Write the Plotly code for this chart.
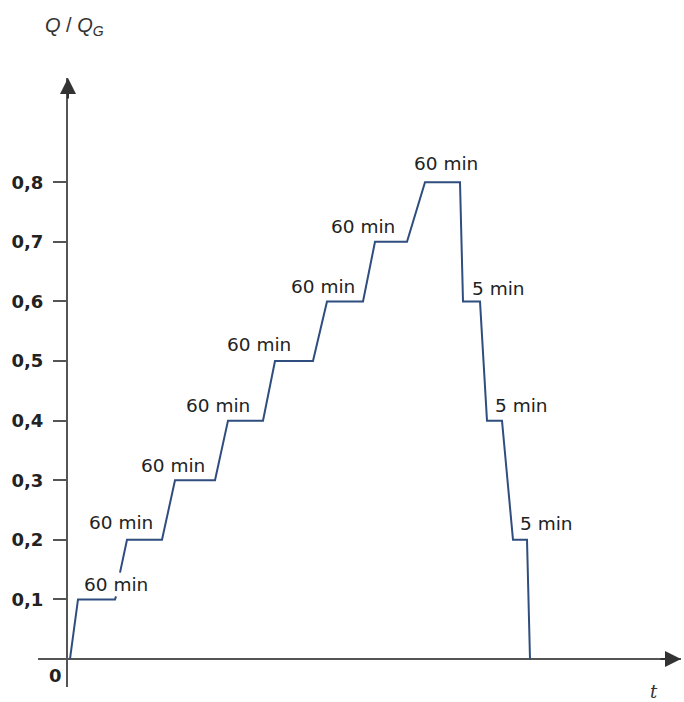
import plotly.graph_objects as go

# Time axis (arbitrary units, no ticks in the original) and load ratio Q/Q_G
t_vals = [2, 10, 47, 48, None, 52, 59, 94, 107, 147, 160, 195, 207, 245, 259, 295,
          307, 339, 357, 392, 395, 412, 419, 434, 445, 459, 462]
q_vals = [0, 0.1, 0.1, 0.105, None, 0.145, 0.2, 0.2, 0.3, 0.3, 0.4, 0.4, 0.5, 0.5, 0.6, 0.6,
          0.7, 0.7, 0.8, 0.8, 0.6, 0.6, 0.4, 0.4, 0.2, 0.2, 0]

y_tick_vals = [0.1, 0.2, 0.3, 0.4, 0.5, 0.6, 0.7, 0.8]
y_tick_text = ["0,1", "0,2", "0,3", "0,4", "0,5", "0,6", "0,7", "0,8"]

# Step duration labels, each tied to a vertex index of the curve
step_labels = ["60 min", "60 min", "60 min", "60 min", "60 min", "60 min", "60 min",
               "60 min", "5 min", "5 min", "5 min"]
label_vertex = [1, 7, 9, 11, 13, 15, 17, 18, 20, 22, 24]
label_anchor = ["left", "right", "right", "right", "right", "right", "right", "left",
                "left", "left", "left"]
label_xshift = [4, -7, -8, -11, -20, -6, -10, -13, 7, 6, 5]
label_yshift = [15, 17, 15, 15, 17, 15, 15, 19, 13, 15, 16]

line_color = "#2f4d7e"
axis_color = "#555555"
text_color = "#222222"

fig = go.Figure()
fig.add_trace(go.Scatter(x=t_vals, y=q_vals, mode="lines",
                         line=dict(color=line_color, width=2),
                         connectgaps=False, hoverinfo="skip", showlegend=False))

annotations = []
for txt, vi, anc, xs, ys in zip(step_labels, label_vertex, label_anchor, label_xshift, label_yshift):
    annotations.append(dict(x=t_vals[vi], y=q_vals[vi], xref="x", yref="y", text=txt,
                            showarrow=False, xanchor=anc, yanchor="middle",
                            xshift=xs, yshift=ys,
                            font=dict(family="DejaVu Sans", size=18.5, color=text_color)))

# origin label
annotations.append(dict(x=0, y=0, xref="x", yref="y", text="0", showarrow=False,
                        xanchor="center", yanchor="middle", xshift=-13, yshift=-17,
                        font=dict(family="DejaVu Sans", size=18, color=text_color, weight="bold")))
# y axis arrow
annotations.append(dict(x=0, y=1, xref="x", yref="paper", ax=0, ay=22,
                        text="", showarrow=True, arrowhead=2, arrowsize=1.6, arrowwidth=2,
                        arrowcolor="#333333", standoff=0))
# x axis arrow
annotations.append(dict(x=1, y=0, xref="paper", yref="y", ax=-22, ay=0,
                        text="", showarrow=True, arrowhead=2, arrowsize=1.6, arrowwidth=2,
                        arrowcolor="#333333", standoff=0))
# axis titles
annotations.append(dict(x=-25 / 613, y=(687 - 27) / 609, xref="paper", yref="paper",
                        xanchor="left", yanchor="middle",
                        text="<i>Q</i> / <i>Q</i><sub><i>G</i></sub>", showarrow=False,
                        font=dict(family="Liberation Sans", size=20, color="#333333")))
annotations.append(dict(x=1, y=0, xref="paper", yref="y", xanchor="center", yanchor="middle",
                        xshift=-27, yshift=-33, text="<i>t</i>", showarrow=False,
                        font=dict(family="DejaVu Serif", size=18, color="#333333")))

fig.update_layout(
    width=684, height=702,
    margin=dict(l=68, r=3, t=78, b=15, autoexpand=False),
    paper_bgcolor="white", plot_bgcolor="white",
    showlegend=False,
    annotations=annotations,
    shapes=[dict(type="line", xref="paper", yref="y", x0=-30 / 613, x1=1, y0=0, y1=0,
                 line=dict(color=axis_color, width=2), layer="below")],
)
fig.update_xaxes(range=[0, 613], visible=False)
fig.update_yaxes(range=[-0.047, 0.975], tickvals=y_tick_vals, ticktext=y_tick_text,
                 showline=True, linecolor=axis_color, linewidth=2, mirror=False,
                 ticks="outside", ticklen=13, tickwidth=1.5, tickcolor=axis_color,
                 ticklabelstandoff=6, showgrid=False, zeroline=False, automargin=False,
                 tickfont=dict(family="DejaVu Sans", size=18, color=text_color, weight="bold"))

fig.write_html("out.html", config={"displayModeBar": False},
               post_script="document.body.style.margin='0';document.body.style.padding='0';")
